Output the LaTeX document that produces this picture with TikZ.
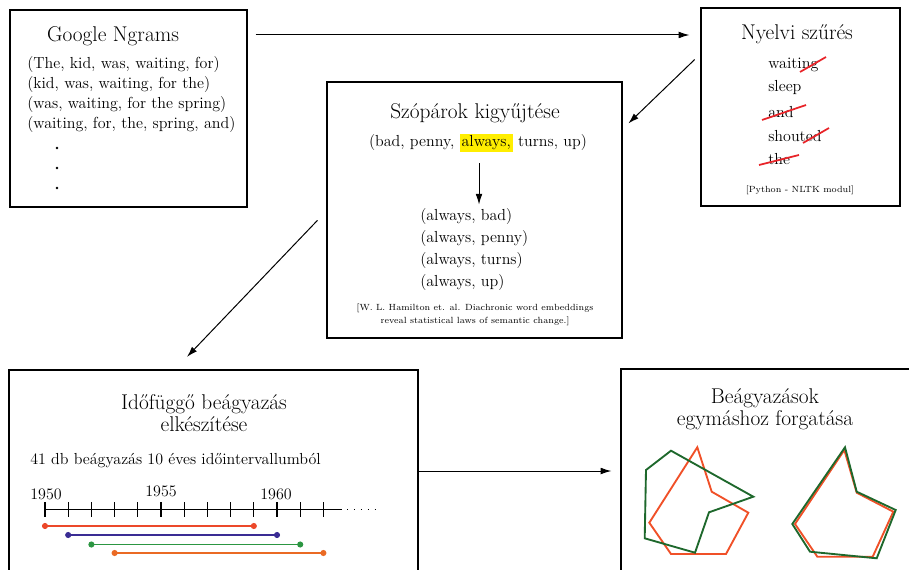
\documentclass[tikz,border=0pt]{standalone}
\usetikzlibrary{positioning,arrows.meta,fit}

\definecolor{strikered}{RGB}{232,35,40}
\definecolor{marker}{RGB}{255,238,0}
\definecolor{spanred}{RGB}{236,72,42}
\definecolor{spanblue}{RGB}{58,44,148}
\definecolor{spangreen}{RGB}{44,150,66}
\definecolor{spanorange}{RGB}{234,106,36}
\definecolor{polyred}{RGB}{240,80,40}
\definecolor{polygreen}{RGB}{30,104,44}

\begin{document}
\begin{tikzpicture}[
  x=0.75pt, y=-0.75pt,
  box/.style={draw, line width=0.9pt, inner sep=0pt},
  title/.style={font=\fontsize{16}{16.8}\selectfont, align=center},
  body/.style={font=\fontsize{12}{15}\selectfont, inner sep=0pt},
  small/.style={font=\fontsize{6.7}{9.75}\selectfont, align=center, inner sep=0pt},
  arrow/.style={-{Latex[length=8pt,width=5pt]}, line width=0.75pt},
  strike/.style={strikered, line width=1.3pt},
  span/.style={line width=1.4pt},
  tick/.style={line width=0.8pt},
  poly/.style={line width=1.4pt, line join=miter}
]

\clip (0,0) rectangle (909,570);

% Boxes
\node[box, fit={(10,10) (247,207)}] (ngrams) {};
\node[box, fit={(701,8) (900,206)}] (szures) {};
\node[box, fit={(327,82) (622,338)}] (parok) {};
\node[box, fit={(9,370) (418,600)}] (idofuggo) {};
\node[box, fit={(621,369) (940,600)}] (forgatas) {};

% Google Ngrams
\node[title] (ngramstitle) at (113,36) {Google Ngrams};
\node[body, align=left, anchor=west] (ngramslist) at (27,95)
  {(The, kid, was, waiting, for)\\(kid, was, waiting, for the)\\
   (was, waiting, for the spring)\\(waiting, for, the, spring, and)};
\foreach \y in {148,168,188}
  \fill (57,\y) circle (1.1pt);

% Nyelvi szures
\node[title] (szurestitle) at (797,34) {Nyelvi szűrés};
\node[body, anchor=west] (w1) at (768,65) {waiting};
\node[body, anchor=west] (w2) at (768,88) {sleep};
\node[body, anchor=west] (w3) at (768,112) {and};
\node[body, anchor=west] (w4) at (768,136) {shouted};
\node[body, anchor=west] (w5) at (768,159) {the};
\draw[strike] (800,72) -- (826,57);
\draw[strike] (762,120) -- (806,105);
\draw[strike] (803,143) -- (829,128);
\draw[strike] (759,165) -- (799,155);
\node[small] (nltk) at (800,190) {[Python - NLTK modul]};

% Szoparok
\node[title] (paroktitle) at (475,113) {Szópárok kigyűjtése};
\node[body] (tuple) at (478,143)
  {(bad, penny, {\setlength\fboxsep{1.5pt}\colorbox{marker}{always,}} turns, up)};
\node[body, align=left, anchor=west, font=\fontsize{12}{16.3}\selectfont] (pairs) at (420,249.5)
  {(always, bad)\\(always, penny)\\(always, turns)\\(always, up)};
\node[small] (hamilton) at (475,314.5)
  {[W. L. Hamilton et. al. Diachronic word embeddings\\reveal statistical laws of semantic change.]};
\draw[arrow, shorten <=8pt, shorten >=3pt] (tuple.south -| 479,0) -- (pairs.north -| 479,0);

% Idofuggo beagyazas
\node[title] (idotitle) at (204,413) {Időfüggő beágyazás\\elkészítése};
\node[body, anchor=west] (idotext) at (30,461) {41 db beágyazás 10 éves időintervallumból};
\draw[tick] (45,509.5) -- (342,509.5);
\draw[tick, dash pattern=on 0.8pt off 4.4pt] (347,509.5) -- (376,509.5);
\foreach \i in {0,...,12}
  \draw[tick] (45+23.2*\i,502) -- (45+23.2*\i,517);
\node[body] (y1950) at (46,494) {1950};
\node[body] (y1955) at (161,491) {1955};
\node[body] (y1960) at (276,494) {1960};
\foreach \c/\a/\y in {spanred/0/526, spanblue/1/535, spangreen/2/544.5, spanorange/3/553}{
  \draw[span, \c] (45+23.2*\a,\y) -- (45+23.2*\a+208.8,\y);
  \fill[\c] (45+23.2*\a,\y) circle (2.3pt) (45+23.2*\a+208.8,\y) circle (2.3pt);
}

% Forgatas
\node[title] (forgtitle) at (765,409) {Beágyazások\\egymáshoz forgatása};
\draw[poly, polyred] (697.3,447.3) -- (711.7,491.7) -- (748.3,512.7) -- (726,554)
  -- (671,554) -- (649.3,522.7) -- cycle;
\draw[poly, polygreen] (671,450.7) -- (646,470) -- (644.7,538.3) -- (695,552.7)
  -- (709,512.3) -- (753.3,496.7) -- cycle;
\draw[poly, polyred] (844.3,450) -- (856.7,492.7) -- (893.3,511.7) -- (872.7,556.7)
  -- (817.3,556.7) -- (795,524) -- cycle;
\draw[poly, polygreen] (845,447.3) -- (856.7,491.7) -- (895.7,510) -- (876.7,558.3)
  -- (810,551.7) -- (792.3,524) -- cycle;

% Connectors
\draw[arrow, shorten <=6pt, shorten >=8.25pt] (ngrams.east |- 0,35) -- (szures.west |- 0,35);
\draw[arrow, shorten <=6pt, shorten >=6pt] (szures.west |- 0,54) -- (parok.east |- 0,129);
\draw[arrow, shorten <=9.75pt, shorten >=13pt] (parok.west |- 0,211) -- (idofuggo.north -| 175,0);
\draw[arrow, shorten >=6.75pt] (idofuggo.east |- 0,471) -- (forgatas.west |- 0,471);

\end{tikzpicture}
\end{document}
